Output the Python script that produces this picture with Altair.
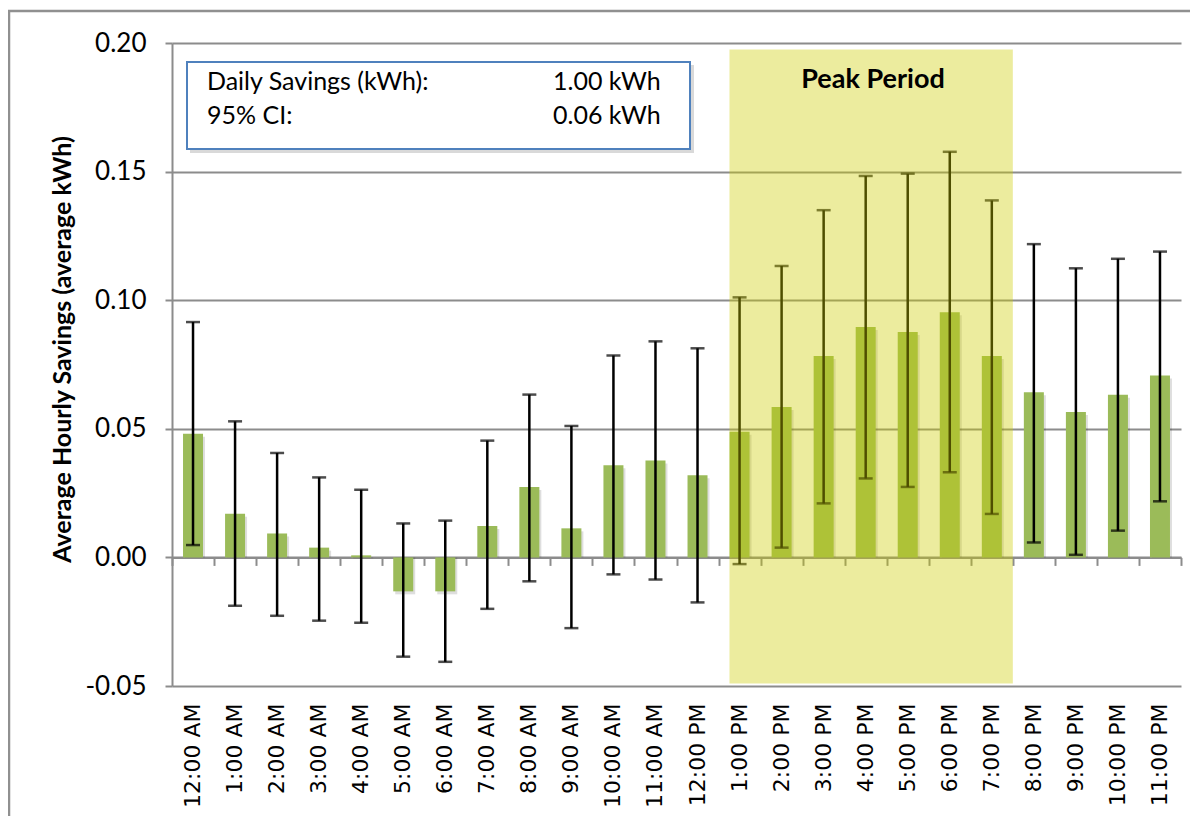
import altair as alt
import pandas as pd

HOURS = ["12:00 AM", "1:00 AM", "2:00 AM", "3:00 AM", "4:00 AM", "5:00 AM",
         "6:00 AM", "7:00 AM", "8:00 AM", "9:00 AM", "10:00 AM", "11:00 AM",
         "12:00 PM", "1:00 PM", "2:00 PM", "3:00 PM", "4:00 PM", "5:00 PM",
         "6:00 PM", "7:00 PM", "8:00 PM", "9:00 PM", "10:00 PM", "11:00 PM"]
SAVINGS = [0.0481, 0.0170, 0.0093, 0.0038, 0.0008, -0.0132, -0.0132, 0.0122,
           0.0274, 0.0113, 0.0358, 0.0377, 0.0319, 0.0489, 0.0585, 0.0783,
           0.0896, 0.0876, 0.0953, 0.0783, 0.0642, 0.0565, 0.0632, 0.0707]
CI_LOWER = [0.0048, -0.0188, -0.0227, -0.0246, -0.0254, -0.0386, -0.0406, -0.0200,
            -0.0093, -0.0275, -0.0066, -0.0086, -0.0175, -0.0026, 0.0038, 0.0210,
            0.0307, 0.0274, 0.0331, 0.0169, 0.0058, 0.0010, 0.0104, 0.0218]
CI_UPPER = [0.0915, 0.0529, 0.0406, 0.0311, 0.0263, 0.0132, 0.0143, 0.0454,
            0.0633, 0.0511, 0.0785, 0.0840, 0.0813, 0.1011, 0.1133, 0.1350,
            0.1483, 0.1492, 0.1577, 0.1388, 0.1218, 0.1124, 0.1161, 0.1189]
Y_TICKS = [-0.05, 0.0, 0.05, 0.10, 0.15, 0.20]
PEAK_START = ["1:00 PM"]
PEAK_END = ["7:00 PM"]
PEAK_Y = [-0.049, 0.1975]
PEAK_LABEL = ["Peak Period"]
Y_TITLE = "Average Hourly Savings (average kWh)"
BOX_LABELS = ["Daily Savings (kWh):", "95% CI:"]
BOX_VALUES = ["1.00 kWh", "0.06 kWh"]

df = pd.DataFrame({"hour": HOURS, "savings": SAVINGS, "lo": CI_LOWER, "hi": CI_UPPER})
peak_df = pd.DataFrame({"start": PEAK_START, "end": PEAK_END,
                        "y1": [PEAK_Y[0]], "y2": [PEAK_Y[1]]})

W, H = 1009, 643
GRAY = "#8c8c8c"
BAR = "#9bbb59"

xscale = alt.Scale(domain=HOURS, paddingInner=0, paddingOuter=0)
yscale = alt.Scale(domain=[-0.05, 0.2], nice=False)

x_labels_axis = alt.Axis(title=None, orient="bottom", domain=False, ticks=False, grid=False,
                         labelAngle=-90, labelFont="DejaVu Sans", labelFontSize=22,
                         labelColor="black", labelPadding=17, labelOverlap=False,
                         labelAlign="right", labelBaseline="middle")
x_zero_axis = alt.Axis(title=None, orient="bottom", offset=-128.6, labels=False, grid=False,
                       domainColor=GRAY, domainWidth=2, tickColor=GRAY, tickWidth=2,
                       tickSize=8, tickBand="extent")
y_axis = alt.Axis(title=Y_TITLE, values=Y_TICKS,
                  labelExpr="datum.value < 0 ? '-' + format(-datum.value, '.2f') : format(datum.value, '.2f')",
                  grid=True, gridColor=GRAY, gridWidth=2, gridOpacity=1,
                  domainColor=GRAY, domainWidth=2, tickColor=GRAY, tickWidth=2, tickSize=7,
                  labelFont="Lato", labelFontSize=26, labelColor="black", labelPadding=19,
                  titleFont="Lato", titleFontSize=25, titleFontWeight="bold",
                  titleColor="black", titleAngle=-90, titleX=-110, titleY=306,
                  titleAlign="center", titleBaseline="middle")

base = alt.Chart(df)

shadow = base.mark_bar(size=20, color="black", opacity=0.13, xOffset=2, yOffset=3).encode(
    x=alt.X("hour:N", scale=xscale, sort=HOURS, axis=x_labels_axis),
    y=alt.Y("savings:Q", scale=yscale, axis=y_axis),
    y2=alt.datum(0),
)
bars = base.mark_bar(size=20, color=BAR).encode(
    x=alt.X("hour:N", scale=xscale, sort=HOURS, axis=x_zero_axis),
    y=alt.Y("savings:Q", scale=yscale, axis=y_axis),
    y2=alt.datum(0),
)
err = base.mark_rule(color="black", strokeWidth=2.5).encode(
    x=alt.X("hour:N", scale=xscale, sort=HOURS, axis=None),
    y=alt.Y("lo:Q", scale=yscale, axis=y_axis),
    y2="hi:Q",
)
cap_hi = base.mark_tick(color="black", thickness=2.5, size=14).encode(
    x=alt.X("hour:N", scale=xscale, sort=HOURS, axis=None),
    y=alt.Y("hi:Q", scale=yscale, axis=y_axis),
)
cap_lo = base.mark_tick(color="black", thickness=2.5, size=14).encode(
    x=alt.X("hour:N", scale=xscale, sort=HOURS, axis=None),
    y=alt.Y("lo:Q", scale=yscale, axis=y_axis),
)

peak = alt.Chart(peak_df).mark_rect(color="#cccc00", opacity=0.38).encode(
    x=alt.X("start:N", scale=xscale, axis=None, bandPosition=0.26),
    x2=alt.X2("end:N", bandPosition=1),
    y=alt.Y("y1:Q", scale=yscale, axis=y_axis),
    y2="y2:Q",
)

peak_lbl_df = pd.DataFrame({"t": PEAK_LABEL})
peak_text = alt.Chart(peak_lbl_df).mark_text(
    font="Lato", fontSize=27, fontWeight="bold", color="black",
    align="center", baseline="alphabetic").encode(
    text="t:N", x=alt.value(701), y=alt.value(45))

one = pd.DataFrame({"a": [0]})
box_shadow = alt.Chart(one).mark_rect(fill="black", opacity=0.15).encode(
    x=alt.value(18), x2=alt.value(522), y=alt.value(22), y2=alt.value(110))
box = alt.Chart(one).mark_rect(fill="white", stroke="#4f81bd", strokeWidth=2).encode(
    x=alt.value(15), x2=alt.value(518), y=alt.value(19), y2=alt.value(106))

box_texts = []
for i, (lab, val) in enumerate(zip(BOX_LABELS, BOX_VALUES)):
    yy = 47 + i * 34
    box_texts.append(alt.Chart(pd.DataFrame({"t": [lab]})).mark_text(
        font="Lato", fontSize=25, color="black", align="left", baseline="alphabetic").encode(
        text="t:N", x=alt.value(35), y=alt.value(yy)))
    box_texts.append(alt.Chart(pd.DataFrame({"t": [val]})).mark_text(
        font="Lato", fontSize=25, color="black", align="left", baseline="alphabetic").encode(
        text="t:N", x=alt.value(381), y=alt.value(yy)))

border_left = alt.Chart(one).mark_rule(color="#909090", strokeWidth=2.5).encode(
    x=alt.value(-163), y=alt.value(-32), y2=alt.value(H + 140))
border_top = alt.Chart(one).mark_rule(color="#909090", strokeWidth=2.5).encode(
    x=alt.value(-164), x2=alt.value(W + 12), y=alt.value(-32))

chart = alt.layer(
    shadow, bars, err, cap_hi, cap_lo, peak, peak_text,
    box_shadow, box, *box_texts, border_left, border_top
).resolve_axis(x="independent").properties(
    width=W, height=H,
    padding={"left": 164, "top": 35, "right": 9, "bottom": 130},
    autosize=alt.AutoSizeParams(type="none"),
).configure_view(stroke=None)

chart.save("out.html", embed_options={"renderer": "svg", "actions": False})
